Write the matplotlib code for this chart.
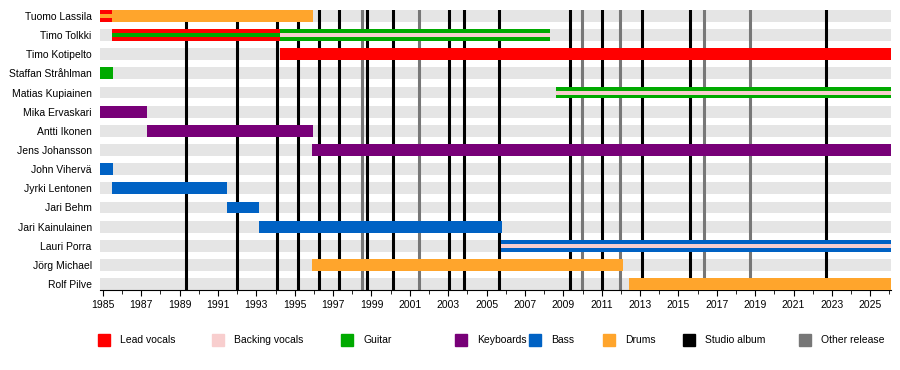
import matplotlib
matplotlib.use("Agg")
import matplotlib.pyplot as plt
import matplotlib.patches as mpatches
import numpy as np

plt.rcParams['font.family'] = ['Liberation Sans', 'DejaVu Sans']

# band members, top to bottom
members = ["Tuomo Lassila", "Timo Tolkki", "Timo Kotipelto", "Staffan Stråhlman",
           "Matias Kupiainen", "Mika Ervaskari", "Antti Ikonen", "Jens Johansson",
           "John Vihervä", "Jyrki Lentonen", "Jari Behm", "Jari Kainulainen",
           "Lauri Porra", "Jörg Michael", "Rolf Pilve"]

START = 1984.85
NOW = 2026.08

# membership segments (member, role, start, end, thin stripe?)
seg_member = ["Tuomo Lassila", "Tuomo Lassila", "Tuomo Lassila",
              "Timo Tolkki", "Timo Tolkki", "Timo Tolkki", "Timo Tolkki",
              "Timo Kotipelto", "Staffan Stråhlman",
              "Matias Kupiainen", "Matias Kupiainen",
              "Mika Ervaskari", "Antti Ikonen", "Jens Johansson",
              "John Vihervä", "Jyrki Lentonen", "Jari Behm", "Jari Kainulainen",
              "Lauri Porra", "Lauri Porra",
              "Jörg Michael", "Rolf Pilve"]
seg_role = ["Lead vocals", "Drums", "Drums",
            "Lead vocals", "Guitar", "Guitar", "Backing vocals",
            "Lead vocals", "Guitar",
            "Guitar", "Backing vocals",
            "Keyboards", "Keyboards", "Keyboards",
            "Bass", "Bass", "Bass", "Bass",
            "Bass", "Backing vocals",
            "Drums", "Drums"]
seg_start = [START, START, 1985.48,
             1985.48, 1985.48, 1994.24, 1994.24,
             1994.24, START,
             2008.6, 2008.6,
             START, 1987.29, 1995.92,
             START, 1985.49, 1991.45, 1993.12,
             2005.75, 2005.75,
             1995.9, 2012.42]
seg_end = [1985.48, 1985.48, 1995.94,
           1994.24, 1994.24, 2008.3, 2008.3,
           NOW, 1985.53,
           NOW, NOW,
           1987.29, 1995.95, NOW,
           1985.53, 1991.47, 1993.12, 2005.78,
           NOW, NOW,
           2012.1, NOW]
seg_thin = [False, True, False,
            False, True, False, True,
            False, False,
            False, True,
            False, False, False,
            False, False, False, False,
            False, True,
            False, False]

studio_albums = [1989.34, 1992.01, 1994.06, 1995.17, 1996.28, 1997.32, 1998.78,
                 2000.14, 2003.05, 2003.83, 2005.66, 2009.37, 2011.02, 2013.10,
                 2015.60, 2022.69]
other_releases = [1998.52, 2001.49, 2009.96, 2011.96, 2016.33, 2018.73]

role_colors = {"Lead vocals": "#ff0000", "Backing vocals": "#f8cece",
               "Guitar": "#00aa00", "Keyboards": "#780078", "Bass": "#0062c4",
               "Drums": "#ffa52c", "Studio album": "#000000",
               "Other release": "#777777"}

fig = plt.figure(figsize=(9, 3.7), dpi=100)
ax = fig.add_axes([100 / 900, 1 - 290 / 370, 791 / 900, 280 / 370])

band_h = 0.62
rows = np.arange(len(members))
ax.barh(rows, NOW - START, left=START, height=band_h, color="#e5e5e5", zorder=1)

for x in studio_albums:
    ax.axvline(x, color=role_colors["Studio album"], lw=2.2, zorder=2)
for x in other_releases:
    ax.axvline(x, color=role_colors["Other release"], lw=2.2, zorder=2)

for m, r, s, e, thin in zip(seg_member, seg_role, seg_start, seg_end, seg_thin):
    y = members.index(m)
    h = band_h / 3 if thin else band_h
    ax.barh(y, e - s, left=s, height=h, color=role_colors[r],
            zorder=4 if thin else 3)

ax.set_xlim(START, NOW)
ax.set_ylim(len(members) - 1 + band_h / 2, -band_h / 2)
ax.set_yticks(rows)
ax.set_yticklabels(members, fontsize=7.5)
ax.tick_params(axis="y", length=0, pad=6)
ax.set_xticks(np.arange(1985, 2026, 2))
ax.set_xticks(np.arange(1986, 2027, 2), minor=True)
ax.tick_params(axis="x", which="major", length=4, labelsize=7.5, pad=3)
ax.tick_params(axis="x", which="minor", length=3)
for side in ["top", "left", "right"]:
    ax.spines[side].set_visible(False)
ax.spines["bottom"].set_linewidth(0.8)

# legend along the bottom
legend_items = ["Lead vocals", "Backing vocals", "Guitar", "Keyboards", "Bass",
                "Drums", "Studio album", "Other release"]
legend_x = [98, 212, 341, 455, 529, 603, 683, 799]
for name, px in zip(legend_items, legend_x):
    fig.patches.append(mpatches.Rectangle((px / 900, 1 - 346 / 370), 12 / 900, 12 / 370,
                                          transform=fig.transFigure,
                                          color=role_colors[name]))
    fig.text((px + 22) / 900, 1 - 340 / 370, name, fontsize=7.5, va="center")

fig.savefig("out.png", dpi=100)
